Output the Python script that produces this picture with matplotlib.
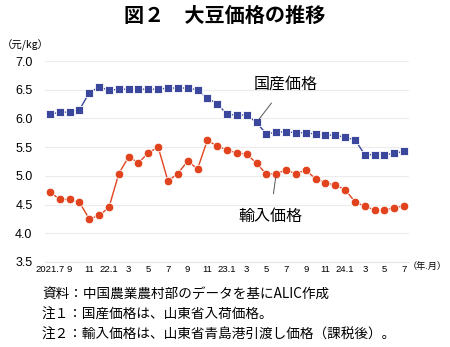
import matplotlib
matplotlib.use("Agg")
import matplotlib.pyplot as plt

months = list(range(37))
tick_labels = ["2021.7", "9", "11", "22.1", "3", "5", "7", "9", "11", "23.1",
               "3", "5", "7", "9", "11", "24.1", "3", "5", "7"]
domestic = [6.07, 6.11, 6.11, 6.15, 6.45, 6.55, 6.49, 6.51, 6.51, 6.51,
            6.51, 6.51, 6.53, 6.53, 6.53, 6.50, 6.35, 6.26, 6.07, 6.06,
            6.06, 5.93, 5.73, 5.76, 5.77, 5.75, 5.75, 5.73, 5.71, 5.71,
            5.67, 5.63, 5.37, 5.37, 5.37, 5.39, 5.43]
imported = [4.72, 4.59, 4.59, 4.54, 4.25, 4.31, 4.45, 5.04, 5.33, 5.23,
            5.40, 5.50, 4.91, 5.04, 5.26, 5.12, 5.62, 5.52, 5.45, 5.40,
            5.38, 5.22, 5.03, 5.04, 5.10, 5.04, 5.10, 4.95, 4.88, 4.84,
            4.76, 4.55, 4.47, 4.41, 4.41, 4.44, 4.48]

JP = ["Noto Sans CJK JP", "DejaVu Sans"]
NUM = ["Liberation Sans", "Noto Sans CJK JP"]
blue = "#3a479c"
red = "#e0431d"

fig = plt.figure(figsize=(4.5, 3.47), dpi=100)
ax = fig.add_axes([0.1, 0.245, 0.809, 0.579])

ax.plot(months, domestic, color=blue, lw=1.0, marker="s", ms=5.5,
        markeredgecolor="white", markeredgewidth=0.6, zorder=3)
ax.plot(months, imported, color=red, lw=1.0, marker="o", ms=6.2,
        markeredgecolor="white", markeredgewidth=0.6, zorder=3)

ax.set_xlim(-0.5, 36.5)
ax.set_ylim(3.5, 7.0)
yt = [3.5, 4.0, 4.5, 5.0, 5.5, 6.0, 6.5, 7.0]
ax.set_yticks(yt)
ax.set_yticklabels([f"{v:.1f}" for v in yt], family=NUM, fontsize=9)
ax.set_xticks(months[::2])
ax.set_xticklabels(tick_labels, family=NUM, fontsize=6.8)
ax.tick_params(axis="both", length=0)
ax.tick_params(axis="y", pad=9)
ax.tick_params(axis="x", pad=2)
ax.grid(axis="y", color="#ececec", lw=0.8)
ax.set_axisbelow(True)
for s in ["left", "right", "top"]:
    ax.spines[s].set_visible(False)
ax.spines["bottom"].set_color("#e6e6e6")
ax.spines["bottom"].set_linewidth(0.8)

# annotations
ax.annotate("国産価格", xy=(months[21], domestic[21]), xytext=(months[21] + 3.0, 6.60),
            family=JP, fontsize=11.5, ha="center", va="center",
            arrowprops=dict(arrowstyle="-", color="#555555", lw=0.7,
                            shrinkA=7, shrinkB=3))
ax.annotate("輸入価格", xy=(months[23], imported[23]), xytext=(months[22] + 0.4, 4.30),
            family=JP, fontsize=11.5, ha="center", va="center",
            arrowprops=dict(arrowstyle="-", color="#555555", lw=0.7,
                            shrinkA=8, shrinkB=3))

fig.text(0.5, 0.955, "図２　大豆価格の推移", family=JP, fontsize=14.5,
         fontweight="bold", ha="center", va="center")
fig.text(0.005, 0.87, "（元/kg）", family=JP, fontsize=7.5, ha="left", va="center")
fig.text(0.993, 0.232, "（年.月）", family=JP, fontsize=6.6, ha="right", va="center")

notes = ["資料：中国農業農村部のデータを基にALIC作成",
         "注１：国産価格は、山東省入荷価格。",
         "注２：輸入価格は、山東省青島港引渡し価格（課税後）。"]
for i, n in enumerate(notes):
    fig.text(0.093, 1 - (295 + 20 * i) / 347, n, family=JP, fontsize=9.8,
             ha="left", va="center")

fig.savefig("out.png", dpi=100)
